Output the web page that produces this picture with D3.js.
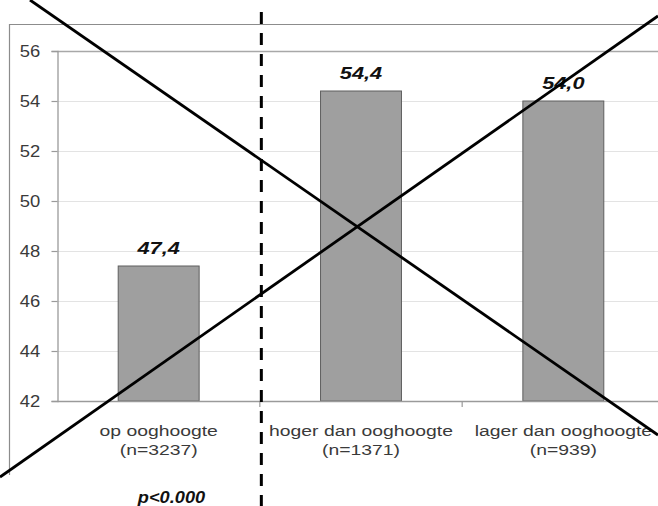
<!DOCTYPE html>
<html>
<head>
<meta charset="utf-8">
<script src="https://cdn.jsdelivr.net/npm/d3@7"></script>
<style>
  html, body { margin: 0; padding: 0; background: #fff; }
  svg { display: block; }
  text { font-family: Arial, "Liberation Sans", sans-serif; }
</style>
</head>
<body>
<svg id="chart" width="658" height="506"></svg>
<script>
// Mean score per viewing position
const categories = ["op ooghoogte", "hoger dan ooghoogte", "lager dan ooghoogte"];
const sampleSizes = ["(n=3237)", "(n=1371)", "(n=939)"];
const values = [47.4, 54.4, 54.0];
const yTicks = [42, 44, 46, 48, 50, 52, 54, 56];
const significance = "p<0.000";

const W = 658, H = 506;
const svg = d3.select("#chart");

const plot = { left: 57.5, right: 664.5, top: 51, bottom: 401 };

const x = d3.scaleBand()
  .domain(categories)
  .range([plot.left, plot.right])
  .paddingInner(0.6)
  .paddingOuter(0.3);

const step = x.step();

const y = d3.scaleLinear()
  .domain([42, 56])
  .range([plot.bottom, plot.top]);

const nl = d3.formatLocale({ decimal: ",", thousands: ".", grouping: [3], currency: ["€", ""] });
const fmt = nl.format(".1f");

// Outer chart frame (left and top edges)
svg.append("path")
  .attr("d", `M9.5,475 V24.5 H${W}`)
  .attr("fill", "none")
  .attr("stroke", "#8c8c8c")
  .attr("stroke-width", 1.2);

// Gridlines
svg.append("g")
  .selectAll("line")
  .data(yTicks.filter(t => t > 42 && t < 56))
  .join("line")
  .attr("x1", plot.left).attr("x2", W)
  .attr("y1", d => Math.round(y(d)) + 0.5).attr("y2", d => Math.round(y(d)) + 0.5)
  .attr("stroke", "#e3e3e3")
  .attr("stroke-width", 1.2);

// Plot area top border
svg.append("line")
  .attr("x1", plot.left).attr("x2", W)
  .attr("y1", y(56) + 0.5).attr("y2", y(56) + 0.5)
  .attr("stroke", "#a8a8a8")
  .attr("stroke-width", 1.3);

// Bars
svg.append("g")
  .selectAll("rect")
  .data(values)
  .join("rect")
  .attr("x", (d, i) => x(categories[i]))
  .attr("width", x.bandwidth())
  .attr("y", d => y(d))
  .attr("height", d => y(42) - y(d))
  .attr("fill", "#9f9f9f")
  .attr("stroke", "#5f5f5f")
  .attr("stroke-width", 1);

// Y axis
const yAxis = svg.append("g")
  .attr("transform", `translate(${plot.left},0)`)
  .call(d3.axisLeft(y).tickValues(yTicks).tickFormat(d3.format("d")).tickSize(6).tickPadding(9));
yAxis.select(".domain").attr("stroke", "#9a9a9a").attr("stroke-width", 1.3);
yAxis.selectAll(".tick line").attr("stroke", "#9a9a9a").attr("stroke-width", 1.2);
yAxis.selectAll(".tick text")
  .attr("font-size", 16)
  .attr("fill", "#3a3a3a")
  .attr("font-family", "Arial, 'Liberation Sans', sans-serif")
  .attr("transform", "scale(1.15,1)");

// X axis baseline with tick marks at category boundaries
svg.append("line")
  .attr("x1", plot.left).attr("x2", W)
  .attr("y1", plot.bottom + 0.5).attr("y2", plot.bottom + 0.5)
  .attr("stroke", "#9a9a9a")
  .attr("stroke-width", 1.3);
svg.append("g")
  .selectAll("line")
  .data(categories.slice(1))
  .join("line")
  .attr("x1", d => x(d) - step * x.paddingInner() / 2)
  .attr("x2", d => x(d) - step * x.paddingInner() / 2)
  .attr("y1", plot.bottom)
  .attr("y2", plot.bottom + 6)
  .attr("stroke", "#9a9a9a")
  .attr("stroke-width", 1.2);

// Helper: horizontally widened text anchored at (cx, cy)
function wideText(g, cx, cy, str, size, sx, opts = {}) {
  return g.append("text")
    .attr("transform", `translate(${cx},${cy}) scale(${sx},1)`)
    .attr("text-anchor", opts.anchor || "middle")
    .attr("font-size", size)
    .attr("font-weight", opts.weight || "normal")
    .attr("font-style", opts.style || "normal")
    .attr("fill", opts.fill || "#333")
    .text(str);
}

// Category labels
const catG = svg.append("g");
categories.forEach((c, i) => {
  const cx = x(c) + x.bandwidth() / 2;
  wideText(catG, cx, 436, c, 15, 1.29, { fill: "#3a3a3a" });
  wideText(catG, cx, 455, sampleSizes[i], 15, 1.29, { fill: "#3a3a3a" });
});

// Value labels above bars
const valG = svg.append("g");
values.forEach((v, i) => {
  const cx = x(categories[i]) + x.bandwidth() / 2;
  wideText(valG, cx, y(v) - 12, fmt(v), 17, 1.28, { weight: "bold", style: "italic", fill: "#111" });
});

// Significance note
wideText(svg, 171.5, 503, significance, 16, 1.14, { weight: "bold", style: "italic", fill: "#111" });

// Dashed separator between the first group and the others
const sepX = x(categories[1]) - step * x.paddingInner() / 2 + 1.5;
svg.append("line")
  .attr("x1", sepX).attr("x2", sepX)
  .attr("y1", 12).attr("y2", H)
  .attr("stroke", "#000")
  .attr("stroke-width", 3)
  .attr("stroke-dasharray", "12,9");

// Crossing lines over the whole chart
const cross = [
  [[30, 0], [W, 435]],
  [[0, 477], [W, 16]]
];
svg.append("g")
  .selectAll("line")
  .data(cross)
  .join("line")
  .attr("x1", d => d[0][0]).attr("y1", d => d[0][1])
  .attr("x2", d => d[1][0]).attr("y2", d => d[1][1])
  .attr("stroke", "#000")
  .attr("stroke-width", 2.8);
</script>
</body>
</html>
